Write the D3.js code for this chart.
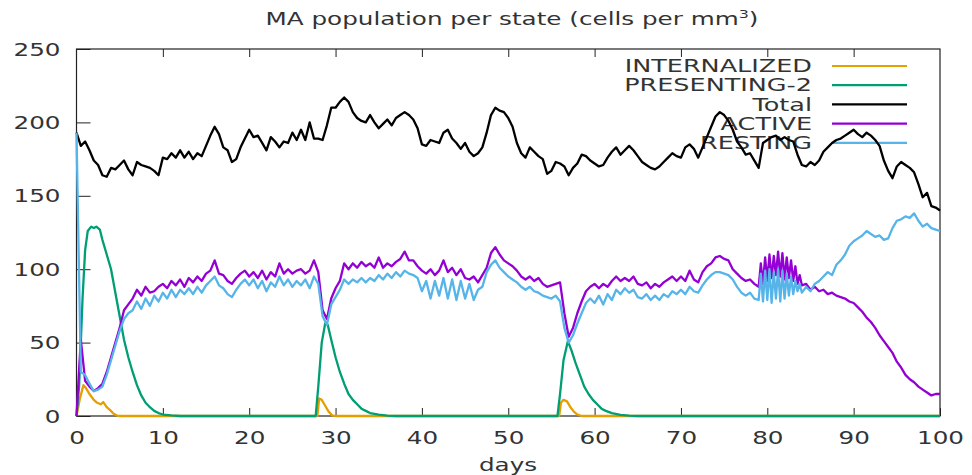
<!DOCTYPE html>
<html>
<head>
<meta charset="utf-8">
<script src="https://cdn.jsdelivr.net/npm/d3@7"></script>
<style>
  body { margin: 0; background: #fff; }
  svg { display: block; }
  text { font-family: "DejaVu Sans", sans-serif; fill: #333; }
</style>
</head>
<body>
<svg id="chart" width="972" height="475"></svg>
<script>
// ---- data: MA population per state, sampled every half day over 100 days ----
const days = d3.range(0, 100.001, 0.5);

const totalValues = [
  193,184,187,181,174,171,164,163,169,168, 171,174,168,164,173,171,170,169,167,164,
  176,175,179,176,181,176,180,175,179,177, 184,191,197,192,183,181,173,175,183,189,
  195,190,191,186,181,190,187,183,187,186, 193,188,195,188,200,189,189,188,198,210,
  210,214,217,214,207,203,201,200,205,200, 196,199,202,198,203,205,207,205,202,196,
  185,184,188,187,186,193,195,189,186,182, 186,180,177,179,183,193,205,210,208,207,
  203,197,186,179,176,183,180,177,175,165, 167,173,172,170,164,169,172,178,177,174,
  172,170,171,176,180,183,178,181,184,181, 177,173,171,169,168,170,173,176,179,177,
  176,183,185,182,176,183,190,197,204,207, 205,201,195,187,183,178,179,174,169,186,
  188,190,191,188,190,188,187,178,171,170, 173,171,174,180,183,186,188,189,191,193,
  195,192,190,193,191,188,184,174,167,162, 170,173,171,169,166,158,149,152,143,142,
  140
];

const activeValues = [
  0,52,24,20,17,19,22,30,40,50, 60,72,76,80,86,82,88,84,85,88,
  90,87,92,89,93,88,94,91,95,92, 97,99,106,97,96,92,90,94,97,99,
  95,98,94,99,93,98,95,104,97,100, 97,99,100,97,99,106,98,72,66,80,
  87,92,104,100,104,101,105,102,104,101, 108,101,104,102,105,107,112,106,106,102,
  99,97,100,96,99,106,98,101,96,100, 94,93,95,91,96,101,111,115,110,106,
  104,102,99,95,93,95,92,94,90,88, 89,90,91,70,54,60,70,78,85,88,
  90,87,90,88,92,95,92,94,92,95, 90,89,91,87,90,88,91,93,95,92,
  95,92,99,93,91,98,102,104,108,109, 107,106,100,97,94,92,93,90,88,96,
  92,100,96,104,95,102,94,96,89,90, 86,88,85,86,83,84,82,81,80,78,
  77,74,71,67,64,60,55,51,47,43, 37,33,28,25,23,20,18,16,14,15,
  15
];

const restingValues = [
  193,30,28,22,17,18,20,28,38,48, 58,66,70,72,78,73,80,75,82,78,
  84,80,86,81,86,83,87,83,88,84, 89,92,95,89,87,83,81,86,90,93,
  89,93,87,92,85,91,88,95,89,93, 88,92,89,93,87,95,90,68,62,76,
  81,86,93,90,93,91,94,91,94,92, 96,93,97,94,98,95,99,97,96,94,
  85,92,80,92,82,94,80,93,79,92, 80,90,79,86,88,98,103,106,101,98,
  95,93,91,88,86,88,85,84,82,81, 80,82,78,60,50,55,63,70,77,80,
  77,82,76,83,79,86,83,87,84,86, 81,80,83,79,82,79,83,81,85,83,
  86,83,88,85,84,89,93,96,98,98, 97,96,93,88,84,82,84,80,79,90,
  80,92,80,94,82,92,82,90,84,88, 85,90,92,95,98,96,103,106,110,116,
  119,121,123,126,124,122,123,120,121,128, 133,134,136,135,138,133,129,131,128,127,
  126
];

// days 79-84 are sampled every quarter day (rapid oscillation)
const burstDays = [79,79.25,79.5,79.75,80,80.25,80.5,80.75,81,81.25,81.5,81.75,82,82.25,82.5,82.75,83,83.25,83.5,83.75,84];
const activeBurst  = [88,104,90,108,92,110,94,109,96,112,95,111,93,108,94,106,92,102,90,96,89];
const restingBurst = [79,97,78,99,79,100,77,98,80,100,78,99,80,97,82,95,83,92,85,90,84];

// sparse series: [day, value] pairs, zero outside the listed bursts
const presentingPoints = [
  [0,0],[0.3,20],[0.7,80],[1,113],[1.3,126],[1.7,129],[2,128],[2.3,129],[2.7,127],[3,120],
  [3.5,110],[4,100],[4.5,84],[5,68],[5.5,52],[6,40],[6.5,30],[7,21],[7.5,14],[8,9],
  [8.5,6],[9,3.5],[9.5,2],[10,1],[11,0.4],[12,0],
  [27.7,0],[28,20],[28.4,50],[28.8,63],[29.1,62],[29.5,52],[30,40],[30.5,30],[31,22],[31.5,15],
  [32,11],[32.5,8],[33,5],[33.5,3.5],[34,2],[35,1],[36,0.3],[37,0],
  [55.7,0],[56,15],[56.4,38],[56.9,51],[57.3,45],[57.8,36],[58.3,28],[58.8,20],[59.3,15],[59.8,11],
  [60.3,8],[60.8,5],[61.3,3.5],[62,2],[63,0.8],[64,0.2],[65,0],[100,0]
];

const internalizedPoints = [
  [0,0],[0.4,12],[0.8,21],[1.1,19],[1.5,15],[2,11],[2.4,9],[2.8,8],[3.1,9.5],[3.5,6],
  [3.9,4],[4.3,1.5],[4.7,0.3],[5,0],
  [27.9,0],[28.1,12],[28.4,11],[28.8,7],[29.2,3],[29.6,0.5],[30,0],
  [55.9,0],[56.1,9],[56.4,11],[56.8,10],[57.2,6],[57.6,3],[58,1],[58.5,0],[100,0]
];

const xTicks = [0,10,20,30,40,50,60,70,80,90,100];
const yTicks = [0,50,100,150,200,250];

const seriesNames  = ["INTERNALIZED", "PRESENTING-2", "Total", "ACTIVE", "RESTING"];
const seriesColors = ["#e69f00", "#009e73", "#000000", "#9400d3", "#56b4e9"];

const titleText = "MA population per state (cells per mm";
const xLabel = "days";

// ---- layout ----
const SX = 1.45;            // horizontal stretch applied to all lettering
const FS = 17;
const svg = d3.select("#chart");
const x = d3.scaleLinear().domain([0, 100]).range([76.5, 940]);
const y = d3.scaleLinear().domain([0, 250]).range([416, 49]);

function stretched(sel, tx, ty, sx = SX) {
  return sel.attr("transform", `translate(${tx},${ty}) scale(${sx},1)`);
}

// title
const title = stretched(svg.append("text"), 512, 25)
  .attr("text-anchor", "middle").style("font-size", "17px");
title.append("tspan").text(titleText);
title.append("tspan").attr("dy", -7).style("font-size", "11px").text("3");
title.append("tspan").attr("dy", 7).text(")");

// axes
const gx = svg.append("g").attr("transform", `translate(0,${y(0)})`)
  .call(d3.axisBottom(x).tickValues(xTicks).tickSizeInner(-8).tickSizeOuter(0).tickPadding(0));
gx.select(".domain").remove();
gx.selectAll(".tick line").attr("stroke", "#222");
gx.selectAll(".tick text").attr("y", 16).attr("dy", "0.71em")
  .attr("transform", `scale(${SX},1)`).style("font-size", FS + "px").attr("fill", "#444");

const gt = svg.append("g").attr("transform", `translate(0,${y(250)})`)
  .call(d3.axisTop(x).tickValues(xTicks.slice(1, -1)).tickSizeInner(-8).tickSizeOuter(0).tickFormat(""));
gt.select(".domain").remove();
gt.selectAll(".tick line").attr("stroke", "#222");

const gy = svg.append("g").attr("transform", `translate(${x(0)},0)`)
  .call(d3.axisLeft(y).tickValues(yTicks).tickSizeInner(-14).tickSizeOuter(0));
gy.select(".domain").remove();
gy.selectAll(".tick line").attr("stroke", "#222");
gy.selectAll(".tick text").attr("x", -16 / SX).attr("dy", "0.36em")
  .attr("transform", `scale(${SX},1)`).style("font-size", FS + "px").attr("fill", "#444");

// x-axis label
stretched(svg.append("text"), 508, 471).attr("text-anchor", "middle")
  .style("font-size", FS + "px").attr("fill", "#444").text(xLabel);

// frame
svg.append("rect")
  .attr("x", x(0)).attr("y", y(250))
  .attr("width", x(100) - x(0)).attr("height", y(0) - y(250))
  .attr("fill", "none").attr("stroke", "#222").attr("stroke-width", 1.2);

// legend (drawn beneath the curves)
const legend = svg.append("g");
seriesNames.forEach((name, i) => {
  const ly = 66 + i * 19.2;
  stretched(legend.append("text"), 812, ly, 1.5).attr("text-anchor", "end")
    .attr("dy", "0.36em").style("font-size", FS + "px").attr("fill", "#333").text(name);
  legend.append("line").attr("x1", 832).attr("x2", 907).attr("y1", ly).attr("y2", ly)
    .attr("stroke", seriesColors[i]).attr("stroke-width", 2.2);
});

// curves
function withBurst(values, burst) {
  const base = days.map((d, i) => [d, values[i]])
    .filter(p => p[0] < burstDays[0] || p[0] > burstDays[burstDays.length - 1]);
  return base.concat(burstDays.map((d, i) => [d, burst[i]])).sort((a, b) => a[0] - b[0]);
}

const line = d3.line().x(d => x(d[0])).y(d => y(d[1]));
const seriesData = [
  internalizedPoints,
  presentingPoints,
  days.map((d, i) => [d, totalValues[i]]),
  withBurst(activeValues, activeBurst),
  withBurst(restingValues, restingBurst)
];
seriesData.forEach((pts, i) => {
  svg.append("path").datum(pts).attr("d", line)
    .attr("fill", "none").attr("stroke", seriesColors[i])
    .attr("stroke-width", 2.3).attr("stroke-linejoin", "round");
});
</script>
</body>
</html>
